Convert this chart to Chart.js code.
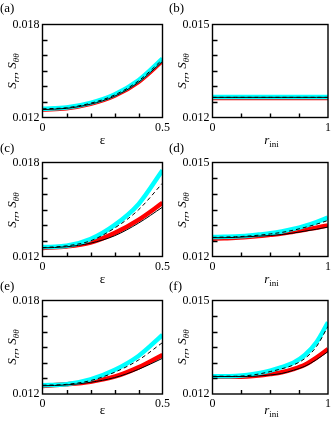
<!DOCTYPE html>
<html>
<head>
<meta charset="utf-8">
<script src="https://cdn.jsdelivr.net/npm/chart.js@4.4.1/dist/chart.umd.min.js"></script>
<style>
  html, body { margin: 0; padding: 0; background: #fff; overflow: hidden; }
  #wrap { position: relative; width: 334px; height: 422px; overflow: hidden;
          font-family: "Liberation Serif", "DejaVu Serif", serif; color: #000; }
  #wrap canvas { position: absolute; }
  .lbl { position: absolute; font-size: 13px; line-height: 13px; white-space: nowrap; }
  .ytitle { position: absolute; font-size: 13px; line-height: 13px; white-space: nowrap;
            transform: translate(-50%, -50%) rotate(-90deg); }
  .xtitle { position: absolute; font-size: 13px; line-height: 13px; white-space: nowrap;
            transform: translate(-50%, -50%); }
  sub { font-size: 9px; vertical-align: -3px; line-height: 0; }
</style>
</head>
<body>
<div id="wrap"></div>
<script>
"use strict";

// x values
const epsilon = [0, 0.1, 0.2, 0.3, 0.4, 0.5];
const rIni = [0, 0.1, 0.2, 0.3, 0.4, 0.5, 0.6, 0.7, 0.8, 0.9, 1.0];

// (a)
const aCyan  = [0.01256, 0.01264, 0.01294, 0.01348, 0.01440, 0.01579];
const aRed   = [0.01252, 0.01260, 0.01288, 0.01340, 0.01430, 0.01566];
const aDash  = [0.01256, 0.01263, 0.01292, 0.01345, 0.01436, 0.01574];
const aBlack = [0.01251, 0.01259, 0.01286, 0.01337, 0.01427, 0.01562];

// (b)
const bCyan  = [0.01266, 0.01266, 0.01266, 0.01266, 0.01266, 0.01266, 0.01266, 0.01266, 0.01266, 0.01266, 0.01266];
const bRed   = [0.01263, 0.01263, 0.01263, 0.01263, 0.01263, 0.01263, 0.01263, 0.01263, 0.01263, 0.01263, 0.01263];
const bDash  = [0.01265, 0.01265, 0.01265, 0.01265, 0.01265, 0.01265, 0.01265, 0.01265, 0.01265, 0.01265, 0.01265];
const bBlack = [0.01265, 0.01265, 0.01265, 0.01265, 0.01265, 0.01265, 0.01265, 0.01265, 0.01265, 0.01265, 0.01265];

// (c)
const cCyan  = [0.01260, 0.01268, 0.01311, 0.01400, 0.01534, 0.01750];
const cRed   = [0.01255, 0.01264, 0.01289, 0.01349, 0.01434, 0.01542];
const cDash  = [0.01257, 0.01268, 0.01300, 0.01381, 0.01498, 0.01668];
const cBlack = [0.01255, 0.01262, 0.01285, 0.01332, 0.01413, 0.01515];

// (d)
const dCyan  = [0.01262, 0.01263, 0.01264, 0.01266, 0.01270, 0.01274, 0.01280, 0.01288, 0.01298, 0.01310, 0.01324];
const dRed   = [0.01257, 0.01258, 0.01260, 0.01262, 0.01265, 0.01269, 0.01273, 0.01279, 0.01285, 0.01292, 0.01299];
const dDash  = [0.01261, 0.01262, 0.01263, 0.01265, 0.01268, 0.01272, 0.01277, 0.01284, 0.01293, 0.01303, 0.01315];
const dBlack = [0.01260, 0.01260, 0.01261, 0.01263, 0.01265, 0.01267, 0.01270, 0.01275, 0.01281, 0.01287, 0.01294];

// (e)
const eCyan  = [0.01256, 0.01263, 0.01294, 0.01354, 0.01444, 0.01579];
const eRed   = [0.01251, 0.01262, 0.01279, 0.01311, 0.01371, 0.01451];
const eDash  = [0.01256, 0.01262, 0.01286, 0.01339, 0.01418, 0.01530];
const eBlack = [0.01253, 0.01258, 0.01275, 0.01305, 0.01358, 0.01429];

// (f)
const fCyan  = [0.01257, 0.01257, 0.01258, 0.01261, 0.01267, 0.01275, 0.01286, 0.01300, 0.01325, 0.01366, 0.01430];
const fRed   = [0.01255, 0.01255, 0.01255, 0.01256, 0.01259, 0.01264, 0.01270, 0.01280, 0.01294, 0.01317, 0.01344];
const fDash  = [0.01257, 0.01257, 0.01257, 0.01259, 0.01264, 0.01272, 0.01281, 0.01293, 0.01314, 0.01352, 0.01417];
const fBlack = [0.01256, 0.01256, 0.01256, 0.01256, 0.01258, 0.01261, 0.01266, 0.01276, 0.01289, 0.01310, 0.01336];

const panelNames = ["(a)", "(b)", "(c)", "(d)", "(e)", "(f)"];
const yMin = 0.012;
const yMaxLeft = 0.018, yStepLeft = 0.001;
const yMaxRight = 0.015, yStepRight = 0.0005;
const xMaxLeft = 0.5, xStepLeft = 0.1;
const xMaxRight = 1, xStepRight = 0.25;

const panels = [
  { x: epsilon, cyan: aCyan, red: aRed, dash: aDash, black: aBlack },
  { x: rIni,    cyan: bCyan, red: bRed, dash: bDash, black: bBlack },
  { x: epsilon, cyan: cCyan, red: cRed, dash: cDash, black: cBlack },
  { x: rIni,    cyan: dCyan, red: dRed, dash: dDash, black: dBlack },
  { x: epsilon, cyan: eCyan, red: eRed, dash: eDash, black: eBlack },
  { x: rIni,    cyan: fCyan, red: fRed, dash: fDash, black: fBlack },
];

// layout (px)
const colLeft = [0, 170];
const canvasW = [180, 164];
const plotRight = [162.5, 160.5];
const rowTop = [0, 138, 276];
const canvasH = 145;
const plotBottom = [117.5, 118.5, 118];
const xTitleY = [139, 278, 409];
const labelTop = [1, 141, 279];

const tickFont = { family: "Liberation Serif", size: 12 };

// box + inward minor ticks (left and bottom only)
function makeFrame(xStep, yStep) {
  return {
    id: "frame",
    afterDraw(chart) {
      const { ctx, chartArea: a } = chart;
      const xs = chart.scales.x, ys = chart.scales.y;
      ctx.save();
      ctx.strokeStyle = "#000";
      ctx.lineWidth = 1.4;
      ctx.strokeRect(a.left, a.top, a.right - a.left, a.bottom - a.top);
      ctx.beginPath();
      const ny = Math.round((ys.max - ys.min) / yStep);
      for (let i = 1; i < ny; i++) {
        const p = Math.round(ys.getPixelForValue(ys.min + i * yStep)) + 0.5;
        ctx.moveTo(a.left, p);
        ctx.lineTo(a.left + 5, p);
      }
      const nx = Math.round((xs.max - xs.min) / xStep);
      for (let i = 1; i < nx; i++) {
        const p = Math.round(xs.getPixelForValue(xs.min + i * xStep)) + 0.5;
        ctx.moveTo(p, a.bottom);
        ctx.lineTo(p, a.bottom - 4);
      }
      ctx.stroke();
      ctx.restore();
    }
  };
}

const wrap = document.getElementById("wrap");

function pts(xs, ys) {
  return xs.map((x, i) => ({ x: x, y: ys[i] }));
}

panels.forEach((p, k) => {
  const col = k % 2, row = Math.floor(k / 2);
  const yMax = col === 0 ? yMaxLeft : yMaxRight;
  const yStep = col === 0 ? yStepLeft : yStepRight;
  const xMax = col === 0 ? xMaxLeft : xMaxRight;
  const xStep = col === 0 ? xStepLeft : xStepRight;

  const cv = document.createElement("canvas");
  cv.width = canvasW[col];
  cv.height = canvasH;
  cv.style.left = colLeft[col] + "px";
  cv.style.top = rowTop[row] + "px";
  wrap.appendChild(cv);

  new Chart(cv, {
    type: "line",
    data: {
      datasets: [
        { data: pts(p.x, p.black), borderColor: "#000", borderWidth: 1 },
        { data: pts(p.x, p.dash), borderColor: "#000", borderWidth: 1, borderDash: [4, 3] },
        { data: pts(p.x, p.cyan), borderColor: "#00ffff", borderWidth: 4.5 },
        { data: pts(p.x, p.red), borderColor: "#ff0000", borderWidth: 4.5 },
      ],
    },
    options: {
      responsive: false,
      animation: false,
      events: [],
      layout: { padding: { top: 24.5, left: 0, bottom: 0, right: canvasW[col] - plotRight[col] } },
      elements: {
        point: { radius: 0 },
        line: { cubicInterpolationMode: "monotone", fill: false },
      },
      plugins: { legend: { display: false }, tooltip: { enabled: false } },
      scales: {
        x: {
          type: "linear", min: 0, max: xMax,
          grid: { display: false, drawTicks: false }, border: { display: false },
          ticks: {
            stepSize: xStep, autoSkip: false, maxRotation: 0, padding: 3,
            font: tickFont, color: "#000",
            callback: (v) => (Math.abs(v) < 1e-9 || Math.abs(v - xMax) < 1e-9) ? String(v) : "",
          },
          afterFit(s) { s.height = canvasH - plotBottom[row]; },
        },
        y: {
          type: "linear", min: yMin, max: yMax,
          grid: { display: false, drawTicks: false }, border: { display: false },
          ticks: {
            stepSize: yStep, autoSkip: false, padding: 3,
            font: tickFont, color: "#000",
            callback: (v) => (Math.abs(v - yMin) < 1e-9 || Math.abs(v - yMax) < 1e-9) ? v.toFixed(3) : "",
          },
          afterFit(s) { s.width = 42.5; },
        },
      },
    },
    plugins: [makeFrame(xStep, yStep)],
  });

  // panel label
  const lb = document.createElement("div");
  lb.className = "lbl";
  lb.textContent = panelNames[k];
  lb.style.left = (col === 0 ? 0 : 169) + "px";
  lb.style.top = labelTop[row] + "px";
  wrap.appendChild(lb);

  // y title
  const yt = document.createElement("div");
  yt.className = "ytitle";
  yt.innerHTML = "<i>S<sub>rr</sub></i>, <i>S<sub>θθ</sub></i>";
  yt.style.left = (col === 0 ? 11 : 181) + "px";
  yt.style.top = (rowTop[row] + (24.5 + plotBottom[row]) / 2) + "px";
  wrap.appendChild(yt);

  // x title
  const xt = document.createElement("div");
  xt.className = "xtitle";
  xt.innerHTML = col === 0 ? "ε" : "<i>r</i><sub>ini</sub>";
  xt.style.left = (colLeft[col] + (42.5 + plotRight[col]) / 2) + "px";
  xt.style.top = xTitleY[row] + "px";
  wrap.appendChild(xt);
});
</script>
</body>
</html>
